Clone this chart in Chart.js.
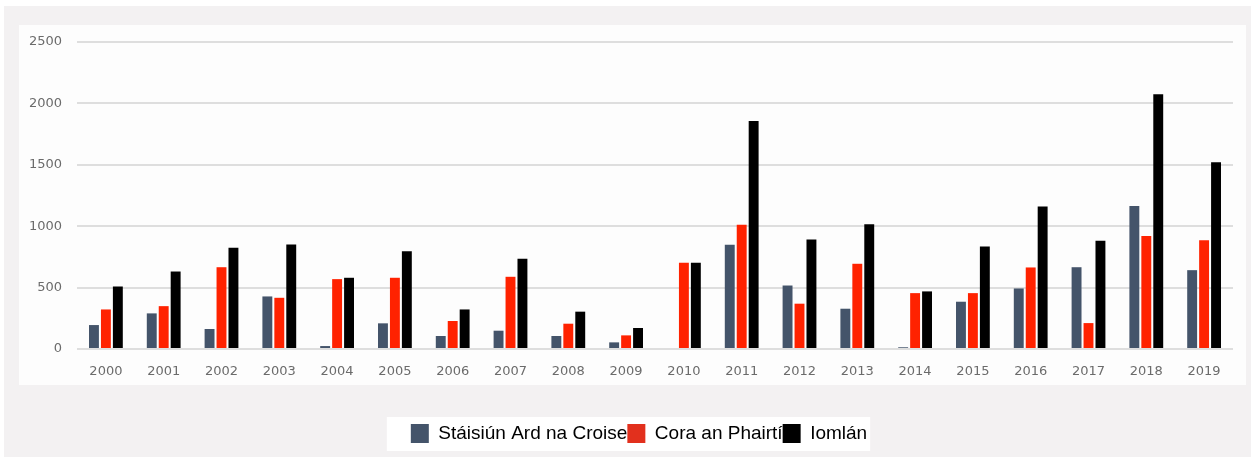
<!DOCTYPE html>
<html>
<head>
<meta charset="utf-8">
<script src="https://cdn.jsdelivr.net/npm/chart.js@4/dist/chart.umd.min.js"></script>
<style>
  html, body { margin: 0; padding: 0; background: #fff; }
  canvas { display: block; }
</style>
</head>
<body>
<canvas id="c" width="1251" height="462"></canvas>
<script>
const years = ['2000','2001','2002','2003','2004','2005','2006','2007','2008','2009',
               '2010','2011','2012','2013','2014','2015','2016','2017','2018','2019'];
const seriesNames = ['Stáisiún Ard na Croise', 'Cora an Phairtí', 'Iomlán'];
const ardNaCroise = [195, 290, 163, 428, 24, 209, 106, 149, 106, 54,
                     0, 848, 517, 328, 14, 385, 493, 666, 1165, 642];
const coraAnPhairti = [322, 349, 666, 417, 569, 580, 228, 588, 206, 111,
                       702, 1011, 369, 694, 455, 455, 664, 211, 921, 886];
const iomlan = [509, 631, 824, 851, 580, 797, 322, 734, 304, 171,
                702, 1856, 891, 1016, 469, 834, 1160, 881, 2075, 1520];
const yTicks = [0, 500, 1000, 1500, 2000, 2500];

const barColors = ['#44546a', '#ff2200', '#000000'];
const legendColors = ['#44546a', '#e2301d', '#000000'];

// background panels: white strip, grey frame, white plot panel, white legend box
const backgroundPanels = {
  id: 'backgroundPanels',
  afterLayout(chart) {
    // legend sits a little right of the page centre in the original
    chart.legend.left += 13;
    chart.legend.right += 13;
  },
  beforeDraw(chart) {
    const c = chart.ctx;
    c.save();
    c.fillStyle = '#ffffff';
    c.fillRect(0, 0, chart.width, chart.height);
    c.fillStyle = '#f3f1f2';
    c.fillRect(4, 6, chart.width - 4, 451);
    c.fillStyle = '#fdfdfd';
    c.fillRect(19, 25, 1227, 360);
    const boxes = chart.legend.legendHitBoxes;
    if (boxes && boxes.length) {
      const first = boxes[0], last = boxes[boxes.length - 1];
      c.fillStyle = '#ffffff';
      c.fillRect(first.left - 24, 417, last.left + last.width - first.left + 27, 34);
    }
    c.restore();
  }
};

new Chart(document.getElementById('c'), {
  type: 'bar',
  data: {
    labels: years,
    datasets: [ardNaCroise, coraAnPhairti, iomlan].map((vals, i) => ({
      label: seriesNames[i],
      data: vals,
      backgroundColor: barColors[i],
      borderWidth: 0,
      categoryPercentage: 0.62,
      barPercentage: 0.83
    }))
  },
  options: {
    responsive: false,
    animation: false,
    layout: { padding: { left: 19, right: 18, top: 42, bottom: 9 } },
    plugins: {
      tooltip: { enabled: false },
      legend: {
        position: 'bottom',
        labels: {
          boxWidth: 18,
          boxHeight: 19,
          padding: 0,
          color: '#000',
          font: { family: 'Liberation Sans', size: 19 },
          generateLabels(chart) {
            const items = Chart.defaults.plugins.legend.labels.generateLabels(chart);
            items.forEach((it, i) => { it.fillStyle = legendColors[i]; it.lineWidth = 0; });
            return items;
          }
        }
      }
    },
    scales: {
      x: {
        grid: { display: false, drawTicks: false },
        border: { display: false },
        ticks: {
          color: '#6b6b6b',
          padding: 15,
          maxRotation: 0,
          font: { family: 'DejaVu Sans', size: 13 }
        },
        afterFit(scale) { scale.height = 75; }
      },
      y: {
        min: 0,
        max: 2500,
        afterBuildTicks(scale) { scale.ticks = yTicks.map(v => ({ value: v })); },
        grid: { color: '#dedede', lineWidth: 2, drawTicks: false },
        border: { display: false },
        ticks: {
          color: '#6b6b6b',
          padding: 15,
          font: { family: 'DejaVu Sans', size: 13 },
          callback: (v) => String(v)
        },
        afterFit(scale) { scale.width = 58; }
      }
    }
  },
  plugins: [backgroundPanels]
});
</script>
</body>
</html>
